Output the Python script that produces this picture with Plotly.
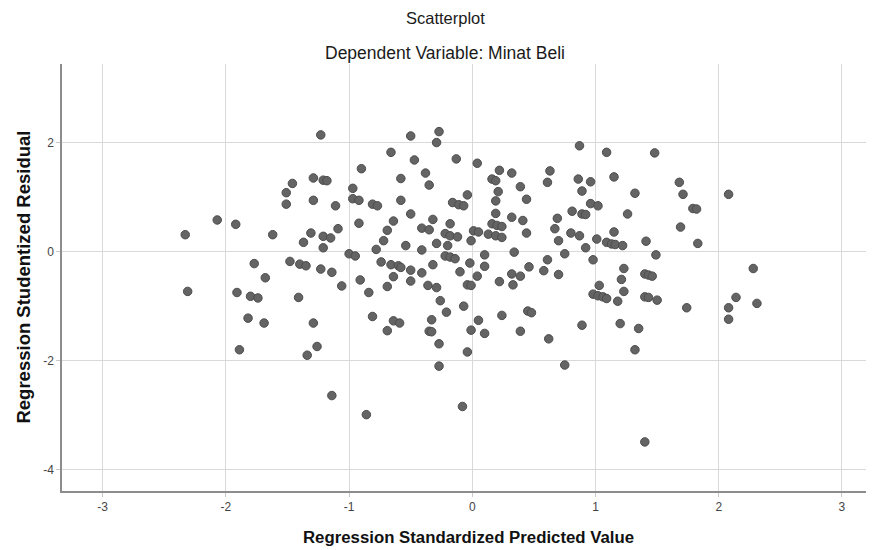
import plotly.graph_objects as go

# Regression Standardized Predicted Value (x) and Studentized Residual (y)
pred = [
 -1.23,-1.46,-1.29,-1.21,-1.18,-1.51,-1.51,-1.29,-1.11,-2.07,
 -1.92,-2.33,-1.62,-1.31,-1.09,-1.21,-1.15,-1.37,-1.21,-1.00,
 -2.31,-1.77,-1.68,-1.48,-1.40,-1.35,-1.23,-1.14,-1.06,-1.91,
 -1.80,-1.74,-1.41,-1.82,-1.69,-1.29,-1.89,-1.26,-1.34,-1.14,
 -0.50,-0.27,-0.29,-0.66,-0.47,-0.13,0.04,-0.90,0.22,0.32,
 -0.38,-0.58,0.16,0.19,-0.35,0.39,-0.97,0.21,-0.04,-0.97,
 -0.92,-0.58,0.19,0.44,-0.16,-0.11,-0.07,-0.81,-0.77,0.19,
 -0.50,0.32,0.41,-0.32,-0.64,-0.92,-0.18,0.16,0.20,0.24,
 -0.41,-0.35,-0.69,-0.22,-0.18,-0.12,0.01,0.05,0.13,0.19,
 0.24,0.44,-0.72,-0.29,-0.20,-0.01,-0.54,-0.78,-0.41,0.34,
 0.10,-0.22,-0.18,-0.14,-0.95,
 -0.74,-0.66,-0.60,-0.58,-0.50,-0.41,-0.32,-0.02,0.10,-0.10,
 0.04,0.46,0.32,0.39,-0.91,-0.64,-0.50,0.22,0.33,-0.69,
 -0.36,-0.29,-0.04,-0.01,-0.84,-0.26,-0.07,-0.21,-0.81,-0.64,
 -0.59,-0.33,0.05,0.24,-0.69,-0.35,-0.33,-0.01,0.10,0.39,
 -0.27,-0.04,-0.27,-0.08,-0.86,
 0.87,1.09,1.48,0.63,0.61,0.86,0.96,1.15,1.68,0.89,
 1.32,1.71,0.96,1.02,0.81,0.89,0.92,1.26,1.79,1.82,
 0.69,0.67,0.80,0.87,1.15,1.69,0.70,1.01,1.09,1.13,
 1.16,1.22,1.41,1.83,0.92,0.75,1.49,0.61,0.98,
 0.58,0.70,1.23,1.21,1.40,1.43,1.46,1.03,1.23,0.98,
 1.02,1.06,1.09,1.18,1.40,1.43,1.50,1.74,0.45,0.48,
 0.89,1.20,1.35,0.62,1.32,0.75,1.40,
 2.08,2.28,2.14,2.08,2.31,2.08
]
resid = [
 2.14,1.25,1.35,1.31,1.30,1.08,0.87,0.94,0.84,0.58,
 0.50,0.31,0.31,0.34,0.42,0.28,0.25,0.17,0.07,-0.04,
 -0.73,-0.22,-0.48,-0.18,-0.23,-0.26,-0.32,-0.38,-0.63,-0.75,
 -0.82,-0.85,-0.84,-1.22,-1.31,-1.31,-1.80,-1.74,-1.90,-2.64,
 2.12,2.20,2.00,1.82,1.68,1.70,1.62,1.52,1.49,1.44,
 1.44,1.34,1.33,1.30,1.22,1.19,1.16,1.10,1.04,0.97,
 0.94,0.94,0.93,0.96,0.90,0.86,0.84,0.87,0.84,0.70,
 0.69,0.63,0.57,0.59,0.56,0.52,0.51,0.51,0.48,0.46,
 0.43,0.40,0.39,0.33,0.29,0.27,0.38,0.36,0.32,0.29,
 0.26,0.34,0.20,0.15,0.11,0.20,0.11,0.04,0.03,-0.01,
 -0.06,-0.08,-0.10,-0.13,-0.08,
 -0.19,-0.24,-0.26,-0.29,-0.34,-0.39,-0.24,-0.21,-0.27,-0.37,
 -0.45,-0.28,-0.41,-0.45,-0.52,-0.46,-0.54,-0.55,-0.61,-0.64,
 -0.62,-0.66,-0.61,-0.62,-0.75,-0.90,-1.00,-1.11,-1.19,-1.27,
 -1.31,-1.25,-1.26,-1.17,-1.45,-1.46,-1.47,-1.44,-1.50,-1.46,
 -1.69,-1.84,-2.10,-2.84,-2.99,
 1.94,1.82,1.81,1.48,1.27,1.33,1.28,1.37,1.27,1.11,
 1.07,1.05,0.88,0.84,0.74,0.69,0.68,0.69,0.79,0.78,
 0.61,0.42,0.34,0.29,0.36,0.45,0.20,0.23,0.17,0.14,
 0.13,0.11,0.19,0.15,0.07,-0.04,-0.06,-0.15,-0.15,
 -0.35,-0.42,-0.31,-0.51,-0.41,-0.43,-0.45,-0.62,-0.73,-0.78,
 -0.81,-0.83,-0.86,-0.91,-0.83,-0.84,-0.89,-1.03,-1.09,-1.12,
 -1.35,-1.32,-1.41,-1.60,-1.80,-2.08,-3.49,
 1.05,-0.31,-0.84,-1.03,-0.95,-1.24
]

x_ticks = [-3, -2, -1, 0, 1, 2, 3]
y_ticks = [-4, -2, 0, 2]

fig = go.Figure()
fig.add_trace(go.Scatter(
    x=pred, y=resid, mode="markers",
    marker=dict(size=8.5, color="#646464", line=dict(color="#4d4d4d", width=1)),
    showlegend=False, hoverinfo="x+y"))

font = "Liberation Sans, Arial, sans-serif"
fig.update_layout(
    width=866, height=542,
    margin=dict(l=54, r=0, t=56, b=59),
    paper_bgcolor="white", plot_bgcolor="white",
    font=dict(family=font, color="#222222"),
    xaxis=dict(range=[-3.33, 3.26], tickvals=x_ticks, ticktext=[str(v) for v in x_ticks],
               showgrid=True, gridcolor="#d9d9d9", gridwidth=1, zeroline=False,
               showline=True, linecolor="#8c8c8c", linewidth=1.5,
               ticks="outside", ticklen=4, tickcolor="#c8c8c8",
               tickfont=dict(size=12, color="#444444", family=font)),
    yaxis=dict(range=[-4.39, 3.44], tickvals=y_ticks, ticktext=[str(v) for v in y_ticks],
               showgrid=True, gridcolor="#d9d9d9", gridwidth=1, zeroline=False,
               showline=True, linecolor="#8c8c8c", linewidth=1.5,
               ticks="outside", ticklen=4, tickcolor="#c8c8c8",
               tickfont=dict(size=12, color="#444444", family=font)),
    annotations=[
        dict(text="Scatterplot", xref="paper", yref="paper", x=0.4717, y=1.108,
             xanchor="center", yanchor="middle", showarrow=False, borderpad=0,
             font=dict(size=16.5, color="#1a1a1a", family=font)),
        dict(text="Dependent Variable: Minat Beli", xref="paper", yref="paper", x=0.4717, y=1.0258,
             xanchor="center", yanchor="middle", showarrow=False,
             font=dict(size=17.5, color="#1a1a1a", family=font)),
        dict(text="<b>Regression Standardized Predicted Value</b>", xref="paper", yref="paper",
             x=0.5, y=-0.110, xanchor="center", yanchor="middle", showarrow=False,
             font=dict(size=16.8, color="#111111", family=font)),
        dict(text="<b>Regression Studentized Residual</b>", xref="paper", yref="paper",
             x=-0.048, y=0.5, xanchor="center", yanchor="middle", textangle=-90, showarrow=False,
             font=dict(size=18.5, color="#111111", family=font)),
    ],
)

fig.write_html("out.html")
